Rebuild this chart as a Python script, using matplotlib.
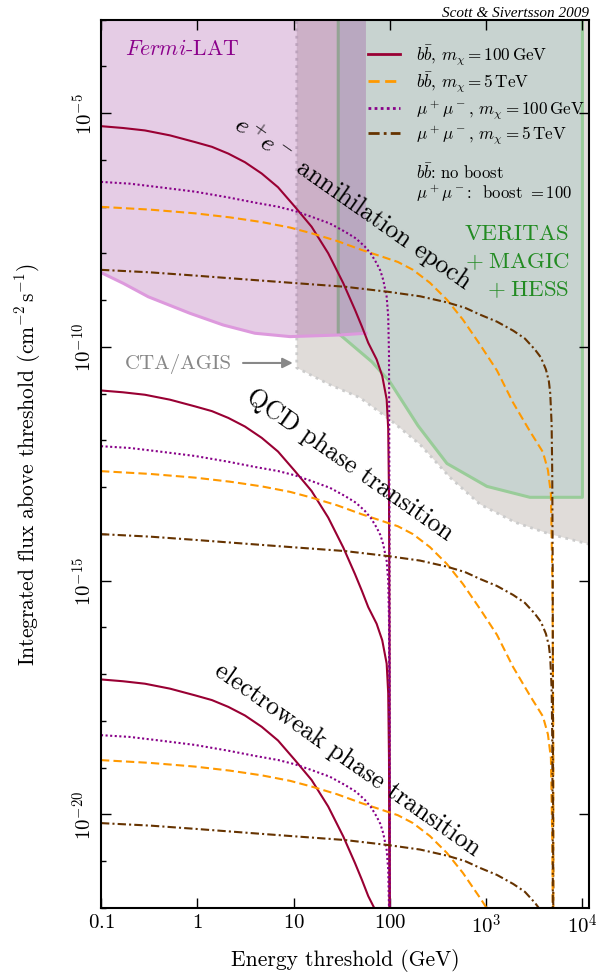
import matplotlib
matplotlib.use('Agg')
import matplotlib.pyplot as plt
from matplotlib.ticker import FixedLocator, FixedFormatter, NullLocator, NullFormatter

plt.rcParams['font.family'] = 'serif'
plt.rcParams['font.serif'] = ['cmr10']
plt.rcParams['mathtext.fontset'] = 'cm'
plt.rcParams['axes.unicode_minus'] = False
plt.rcParams['axes.formatter.use_mathtext'] = True

# Integrated flux above threshold for a minihalo formed at the QCD phase
# transition; the other epochs are the same spectra scaled by epoch_scale
E_bb100 = [0.1, 0.169, 0.286, 0.521, 0.946, 1.42, 2.10, 3.13, 4.67, 6.89, 10.35,
           15.4, 22.9, 32.8, 43.4, 51.3, 59.7, 72.9, 83.4, 92.7, 96.2, 98.0,
           99.3, 100.0]
F_bb100 = [1.17e-11, 1.07e-11, 9.48e-12, 7.43e-12, 5.35e-12, 4.23e-12, 3.03e-12,
           1.98e-12, 1.135e-12, 5.79e-13, 2.2e-13, 8.26e-14, 2.24e-14, 5.15e-15,
           1.39e-15, 6.04e-16, 2.71e-16, 1.2e-16, 5.3e-17, 1.68e-17, 3.9e-18,
           1.6e-19, 1e-22, 1e-30]

E_bb5T = [0.1, 0.323, 0.946, 2.19, 4.67, 9.19, 15.4, 28.3, 50.9, 78.9, 121, 174,
          261, 392, 574, 863, 1295, 1897, 2850, 3890, 4385, 4710, 4880, 4990, 5000]
F_bb5T = [2.2e-13, 1.92e-13, 1.6e-13, 1.31e-13, 1.04e-13, 7.94e-14, 5.98e-14,
          4.1e-14, 2.64e-14, 1.96e-14, 1.46e-14, 9.89e-15, 5.22e-15, 2.27e-15,
          8.51e-16, 2.5e-16, 6.97e-17, 1.45e-17, 3.49e-18, 1.25e-18, 5.16e-19,
          1.59e-19, 1.92e-21, 1e-24, 1e-30]

E_mm100 = [0.1, 0.2, 0.426, 0.946, 2.10, 3.97, 6.93, 10.35, 15.4, 23.9, 34.2,
           44.5, 55.1, 63.7, 72.9, 79.8, 85.3, 92.6, 96.2, 98.0, 99.3, 100.0]
F_mm100 = [7.52e-13, 6.89e-13, 5.71e-13, 4.65e-13, 3.5e-13, 2.71e-13, 2.21e-13,
           1.79e-13, 1.35e-13, 9.68e-14, 6.47e-14, 4.64e-14, 3.1e-14, 2.17e-14,
           1.37e-14, 9.42e-15, 6.05e-15, 2.67e-15, 1.0e-15, 1.53e-16, 2.2e-20, 1e-30]

E_mm5T = [0.1, 0.323, 0.946, 3.13, 10.35, 34.2, 95.5, 206, 389, 603, 863, 1295,
          1910, 2529, 3214, 3707, 4178, 4486, 4634, 4790, 4862, 4920, 5000]
F_mm5T = [9.89e-15, 8.75e-15, 7.46e-15, 6.19e-15, 5.15e-15, 4.3e-15, 3.36e-15,
          2.69e-15, 2.0e-15, 1.53e-15, 1.09e-15, 7.71e-16, 4.95e-16, 3.35e-16,
          1.95e-16, 1.32e-16, 7.33e-17, 4.06e-17, 2.25e-17, 4.93e-18, 4.25e-19,
          2e-21, 1e-30]

# e+e- annihilation, QCD phase transition, electroweak phase transition
epoch_scale = [4.5e5, 1.0, 6.6e-7]

# Sensitivity regions
fermi_E = [0.1, 0.171, 0.31, 0.84, 1.86, 3.97, 9.2, 30.3, 56.5]
fermi_F = [3.9e-9, 2.28e-9, 1.18e-9, 5.23e-10, 2.94e-10, 1.96e-10, 1.66e-10,
           1.8e-10, 1.96e-10]
cta_E = [10.8, 23.9, 49.0, 100, 206, 421, 863, 1990, 4600, 11700, 20000]
cta_F = [3.57e-11, 1.55e-11, 8.18e-12, 2.79e-12, 8.17e-13, 1.62e-13, 4.31e-14,
         1.78e-14, 9.89e-15, 6.05e-15, 6.05e-15]
veritas_E = [29.1, 65.2, 100, 196, 392, 1019, 2851, 1e4]
veritas_F = [1.96e-10, 4.79e-11, 1.79e-11, 2.07e-12, 3.21e-13, 1.04e-13,
             6.07e-14, 6.07e-14]

x_ticks = [0.1, 1, 10, 100, 1e3, 1e4]
x_labels = ['$0.1$', '$1$', '$10$', '$100$', '$10^3$', '$10^4$']
y_ticks = [1e-20, 1e-15, 1e-10, 1e-5]
y_labels = ['$10^{-20}$', '$10^{-15}$', '$10^{-10}$', '$10^{-5}$']

fig = plt.figure(figsize=(6.08, 9.78), dpi=100)
ax = fig.add_axes([0.1661, 0.0706, 0.8026, 0.9083])
ax.set_xscale('log')
ax.set_yscale('log')
ax.set_xlim(0.1, 1.17e4)
ax.set_ylim(1e-22, 1e-3)

top = 1.0
# CTA/AGIS
ax.fill(cta_E[:1] + cta_E + cta_E[-1:], [top] + cta_F + [top],
        facecolor='#e0dcd9', edgecolor='none', zorder=1)
ax.plot(cta_E[:1] + cta_E, [top] + cta_F, color='#cccccc', lw=2, ls=':', zorder=1.1)
# VERITAS + MAGIC + HESS
ax.fill(veritas_E[:1] + veritas_E + veritas_E[-1:], [top] + veritas_F + [top],
        facecolor='#c8d3d0', edgecolor='none', zorder=1.2)
ax.plot(veritas_E[:1] + veritas_E + veritas_E[-1:], [top] + veritas_F + [top],
        color='#99cc99', lw=2.2, zorder=1.3)
# Fermi-LAT
ax.fill(fermi_E[:1] + fermi_E + fermi_E[-1:], [top] + fermi_F + [top],
        facecolor='purple', alpha=0.2, edgecolor='none', zorder=1.4)
ax.plot(fermi_E, fermi_F, color='#dd99dd', lw=2.2, zorder=1.5)

styles = [
    (E_bb100, F_bb100, dict(color='#990033', ls='-'), r'$b\bar{b}$, $m_\chi = 100\,$GeV'),
    (E_bb5T, F_bb5T, dict(color='#ff9900', ls=(0, (4, 2))), r'$b\bar{b}$, $m_\chi = 5\,$TeV'),
    (E_mm100, F_mm100, dict(color='#880088', ls=(0, (1, 1.2))), r'$\mu^+\mu^-$, $m_\chi = 100\,$GeV'),
    (E_mm5T, F_mm5T, dict(color='#663300', ls=(0, (4, 1.5, 1, 1.5))), r'$\mu^+\mu^-$, $m_\chi = 5\,$TeV'),
]
for s in epoch_scale:
    for E, F, st, lab in styles:
        ax.plot(E, [f * s for f in F], lw=1.5, zorder=3, **st)

# legend keys laid out by hand so every row has the same height
row_y = [0.9612, 0.9308, 0.9004, 0.8723]
for y, (E, F, st, lab) in zip(row_y, styles):
    ax.plot([0.547, 0.613], [y, y], transform=ax.transAxes, lw=2, zorder=4, **st)
    ax.text(0.6455, y - 0.0052, lab, transform=ax.transAxes, fontsize=12.3,
            va='baseline', zorder=4)
ax.text(0.6455, 0.8297, r'$b\bar{b}$: no boost', transform=ax.transAxes,
        fontsize=12, va='center')
ax.text(0.6455, 0.805, r'$\mu^+\mu^-$:  boost $= 100$', transform=ax.transAxes,
        fontsize=12, va='center')

ax.text(0.049, 0.968, r'$\mathit{Fermi}$-LAT', transform=ax.transAxes,
        color='#8b008b', fontsize=15.7, va='center')
ax.text(0.960, 0.7703, 'VERITAS\n' + r'$+\;$MAGIC' + '\n' + r'$+\;$HESS',
        transform=ax.transAxes, color='#228b22', fontsize=16.5, ha='right',
        va='top', linespacing=1.42, zorder=4)
ax.annotate('CTA/AGIS', xy=(0.393, 0.6135), xytext=(0.049, 0.6135),
            xycoords='axes fraction', textcoords='axes fraction',
            color='#888888', fontsize=15, va='center', ha='left',
            arrowprops=dict(arrowstyle='-|>', color='#888888', lw=1.5,
                            mutation_scale=15, shrinkA=6, shrinkB=0))

ax.text(0.517, 0.795, r'$e^+\!e^-$ annihilation epoch', transform=ax.transAxes,
        fontsize=18.5, rotation=-35, ha='center', va='center', rotation_mode='anchor', zorder=4)
ax.text(0.510, 0.4998, 'QCD phase transition', transform=ax.transAxes,
        fontsize=18.5, rotation=-35, ha='center', va='center', rotation_mode='anchor', zorder=4)
ax.text(0.506, 0.1677, 'electroweak phase transition', transform=ax.transAxes,
        fontsize=18.5, rotation=-35, ha='center', va='center', rotation_mode='anchor', zorder=4)

fig.text(0.969, 0.9864, 'Scott & Sivertsson 2009', family='Liberation Serif',
         style='italic', fontsize=11, ha='right', va='center')

ax.xaxis.set_major_locator(FixedLocator(x_ticks))
ax.xaxis.set_major_formatter(FixedFormatter(x_labels))
ax.xaxis.set_minor_locator(NullLocator())
ax.yaxis.set_major_locator(FixedLocator(y_ticks))
ax.yaxis.set_major_formatter(FixedFormatter(y_labels))
ax.yaxis.set_minor_locator(FixedLocator([10.0 ** k for k in range(-22, -2)]))
ax.yaxis.set_minor_formatter(NullFormatter())
ax.tick_params(which='both', direction='in', top=True, right=True, labelsize=15)
ax.tick_params(which='major', length=7, width=1)
ax.tick_params(which='minor', length=3.5, width=1, right=False)
plt.setp(ax.get_yticklabels(), rotation=90, va='center')
for sp in ax.spines.values():
    sp.set_linewidth(1.5)
    sp.set_zorder(5)

ax.set_xlabel('Energy threshold (GeV)', fontsize=15.5, labelpad=8)
ax.set_ylabel(r'Integrated flux above threshold (cm$^{-2}\,$s$^{-1}$)',
              fontsize=15.5, labelpad=21)

fig.savefig('out.png', dpi=100)
